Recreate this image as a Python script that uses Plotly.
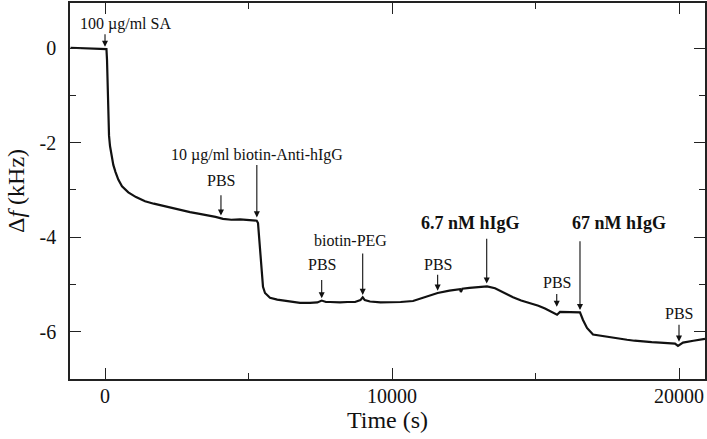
import plotly.graph_objects as go

# ---- data ----
time_s = [-1200, -600, 0, 50, 70, 105, 140, 174, 226, 289, 366, 463, 592, 812, 1080,
          1394, 1700, 1976, 2200, 2439, 2700, 2962, 3250, 3554, 3850, 4111, 4400, 4704,
          5000, 5286, 5331, 5400, 5460, 5505, 5575, 5749, 6000, 6202, 6500, 6794, 7143,
          7400, 7550, 7700, 7840, 8188, 8450, 8711, 8900, 8979, 9050, 9233, 9600, 9930,
          10300, 10732, 11150, 11590, 12000, 12370, 12400, 12450, 12700, 13000, 13310,
          13590, 13900, 14216, 14500, 14808, 15100, 15331, 15610, 15750, 15854, 16200,
          16550, 16655, 16794, 17003, 17300, 17596, 17900, 18188, 18450, 18746, 19050,
          19338, 19600, 19860, 19965, 20139, 20500, 20906]
delta_f_khz = [0.01, 0.0, -0.01, -0.02, -0.25, -1.15, -1.85, -2.07, -2.30, -2.47, -2.62,
               -2.78, -2.92, -3.05, -3.15, -3.24, -3.29, -3.33, -3.37, -3.41, -3.44, -3.47,
               -3.50, -3.53, -3.57, -3.61, -3.63, -3.62, -3.64, -3.65, -3.70, -4.27, -4.83,
               -5.05, -5.18, -5.28, -5.32, -5.34, -5.37, -5.39, -5.39, -5.38, -5.34, -5.37,
               -5.37, -5.38, -5.37, -5.37, -5.33, -5.27, -5.33, -5.36, -5.38, -5.38, -5.37,
               -5.35, -5.26, -5.18, -5.13, -5.10, -5.16, -5.09, -5.07, -5.05, -5.04, -5.08,
               -5.18, -5.27, -5.34, -5.39, -5.45, -5.51, -5.59, -5.64, -5.58, -5.58, -5.59,
               -5.75, -5.92, -6.06, -6.09, -6.11, -6.14, -6.17, -6.19, -6.21, -6.22, -6.23,
               -6.24, -6.25, -6.30, -6.23, -6.19, -6.15]

x_ticks = [0, 10000, 20000]
y_ticks = [0, -2, -4, -6]

# annotation events: label, event time, arrow tip y, arrow tail y, label x, label y, bold
event_labels = ["100 µg/ml SA", "PBS", "10 µg/ml biotin-Anti-hIgG", "PBS", "biotin-PEG",
                "PBS", "6.7 nM hIgG", "PBS", "67 nM hIgG", "PBS"]
event_times = [0, 4040, 5290, 7550, 8979, 11590, 13300, 15740, 16550, 20000]
arrow_tip_y = [0.03, -3.54, -3.58, -5.29, -5.22, -5.13, -4.98, -5.47, -5.54, -6.21]
arrow_tail_y = [0.34, -3.07, -2.43, -4.86, -4.30, -4.75, -3.99, -5.16, -4.04, -5.81]
label_x = [697, 4040, 5296, 7550, 8540, 11590, 12720, 15740, 17900, 20000]
label_y = [0.51, -2.79, -2.26, -4.58, -4.07, -4.58, -3.70, -4.96, -3.70, -5.62]
label_bold = [False, False, False, False, False, False, True, False, True, False]

FONT = "Liberation Serif"

fig = go.Figure()
fig.add_trace(go.Scatter(x=time_s, y=delta_f_khz, mode="lines",
                         line=dict(color="#111111", width=2.2), showlegend=False,
                         hoverinfo="skip"))

for lab, t, tip, tail, lx, ly, b in zip(event_labels, event_times, arrow_tip_y,
                                         arrow_tail_y, label_x, label_y, label_bold):
    fig.add_annotation(x=t, y=tip, ax=t, ay=tail, xref="x", yref="y", axref="x", ayref="y",
                       text=" ", showarrow=True, arrowhead=2, arrowsize=1.1,
                       arrowwidth=1.1, arrowcolor="#111111", font=dict(size=1),
                       standoff=0, startstandoff=0)
    fig.add_annotation(x=lx, y=ly, xref="x", yref="y", showarrow=False,
                       text=f"<b>{lab}</b>" if b else lab,
                       font=dict(family=FONT, size=18 if b else 16, color="#111111"),
                       xanchor="center", yanchor="middle")

axis_common = dict(showline=True, linecolor="#222222", linewidth=1.5, mirror="ticks",
                   ticks="inside", ticklen=11, tickwidth=1.3, tickcolor="#222222",
                   showgrid=False, zeroline=False,
                   tickfont=dict(family=FONT, size=20, color="#111111"))

fig.update_xaxes(range=[-1220, 20906], tickvals=x_ticks, ticktext=[str(v) for v in x_ticks],
                 minor=dict(tickvals=[5000, 15000], ticks="inside", ticklen=6,
                            tickwidth=1.3, tickcolor="#222222"),
                 title=dict(text="Time (s)", font=dict(family=FONT, size=24, color="#111111"),
                            standoff=2),
                 ticklabelstandoff=-2, **axis_common)
fig.update_yaxes(range=[-7.0, 0.957], tickvals=y_ticks, ticktext=[str(v) for v in y_ticks],
                 minor=dict(tickvals=[-1, -3, -5], ticks="inside", ticklen=6,
                            tickwidth=1.3, tickcolor="#222222"),
                 title=dict(text="Δ<i>f</i> (kHz)", font=dict(family=FONT, size=24, color="#111111"),
                            standoff=8),
                 ticklabelstandoff=8, **axis_common)

fig.update_layout(width=707, height=439, margin=dict(l=70, r=2, t=3, b=60, autoexpand=False),
                  plot_bgcolor="white", paper_bgcolor="white",
                  font=dict(family=FONT, color="#111111"))

fig.write_html("out.html", config={"displayModeBar": False},
               post_script="document.body.style.margin='0';document.body.style.overflow='hidden';")
